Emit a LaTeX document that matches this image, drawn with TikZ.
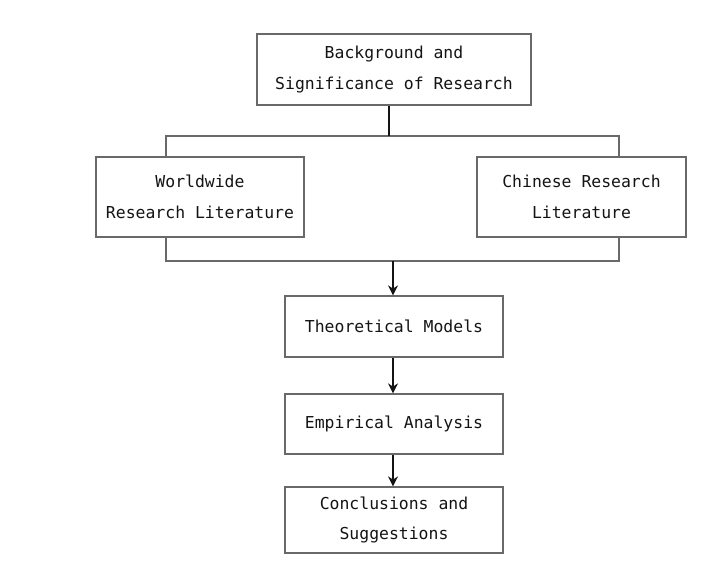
\documentclass[tikz,border=0pt]{standalone}
\usepackage{fontspec}
\usepackage{tikz}
\usetikzlibrary{arrows.meta,calc}
\newfontfamily\figfont{DejaVu Sans Mono}
\definecolor{figline}{RGB}{20,20,20}
\definecolor{figbox}{RGB}{105,105,105}
\tikzset{
  box/.style  ={draw=figbox, line width=1.2bp, fill=white, align=center, inner sep=0pt,
                font=\figfont\fontsize{16.5}{31}\selectfont, text=figline},
  lnk/.style  ={draw=figline, line width=2.2bp},
  brk/.style  ={draw=figbox, line width=1.2bp},
  arr/.style  ={draw=figline, line width=1.8bp, -{Stealth[length=10bp,width=10bp]}},
}
\begin{document}
\begin{tikzpicture}[x=1bp,y=-1bp]
  \useasboundingbox (0,0) rectangle (712,570);
  % bracket behind the two literature boxes
  \coordinate (btl) at (166,136);
  \coordinate (bbr) at (619,261);
  \draw[brk] (btl) rectangle (bbr);
  \coordinate (btop) at (389,136);
  \coordinate (bbot) at (393,261);
  % boxes
  \node[box,minimum width=274bp,minimum height=71bp] (bg) at (394,69.5)
    {Background and\\Significance of Research};
  \node[box,minimum width=208bp,minimum height=80bp] (world) at (200,197)
    {Worldwide\\Research Literature};
  \node[box,minimum width=209bp,minimum height=80bp] (china) at (581.5,197)
    {Chinese Research\\Literature};
  \node[box,minimum width=218bp,minimum height=61bp] (theo) at (394,326.5)
    {Theoretical Models};
  \node[box,minimum width=218bp,minimum height=60bp] (emp) at (394,424)
    {Empirical Analysis};
  \node[box,minimum width=218bp,minimum height=66bp] (conc) at (394,520)
    {Conclusions and\\Suggestions};
  % connectors
  \draw[lnk] (bg.south -| btop) -- (btop);
  \draw[arr] (bbot) -- (bbot |- theo.north);
  \draw[arr] (theo.south -| bbot) -- (emp.north -| bbot);
  \draw[arr] (emp.south -| bbot) -- (conc.north -| bbot);
\end{tikzpicture}
\end{document}
